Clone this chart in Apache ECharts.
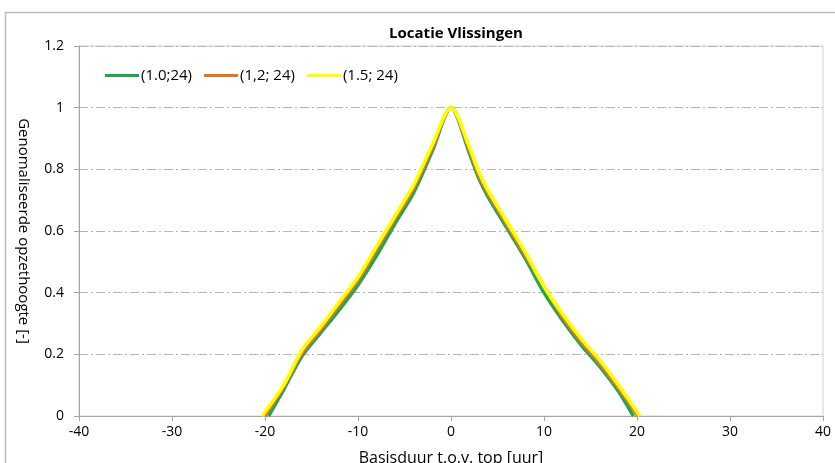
<!DOCTYPE html>
<html>
<head>
<meta charset="utf-8">
<script src="https://cdn.jsdelivr.net/npm/echarts@6/dist/echarts.min.js"></script>
<style>html,body{margin:0;padding:0;background:#fff;}#c{width:835px;height:463px;}</style>
</head>
<body>
<div id="c"></div>
<script>
var seriesNames = ['(1.0;24)', '(1,2; 24)', '(1.5; 24)'];
var green = [[-19.6,0],[-18,0.085],[-16,0.195],[-14,0.27],[-12,0.345],[-10,0.425],[-8,0.52],[-6,0.625],[-4,0.725],[-2,0.86],[0,1],[2,0.85],[3,0.77],[4,0.71],[6,0.61],[8,0.51],[10,0.40],[12,0.31],[14,0.23],[16,0.16],[18,0.08],[19.6,0]];
var orange = [[-20.0,0],[-18,0.095],[-16,0.205],[-14,0.28],[-12,0.36],[-10,0.44],[-8,0.54],[-6,0.64],[-4,0.74],[-2,0.87],[0,1],[2,0.86],[3,0.78],[4,0.72],[6,0.62],[8,0.52],[10,0.42],[12,0.32],[14,0.24],[16,0.17],[18,0.09],[20.1,0]];
var yellow = [[-20.3,0],[-18,0.10],[-16,0.215],[-14,0.29],[-12,0.37],[-10,0.45],[-8,0.55],[-6,0.65],[-4,0.75],[-2,0.88],[0,1],[2,0.87],[3,0.79],[4,0.73],[6,0.63],[8,0.53],[10,0.42],[12,0.33],[14,0.25],[16,0.18],[18,0.10],[20.3,0]];
var colors = ['#1fa84a', '#e8731c', '#ffff00'];

var chart = echarts.init(document.getElementById('c'));
var font = 'Open Sans, Liberation Sans, sans-serif';
function mk(name, data, color) {
  return {name: name, type: 'line', data: data, smooth: 0.3, symbol: 'none',
    lineStyle: {color: color, width: 3.5}, itemStyle: {color: color}};
}
chart.setOption({
  animation: false,
  graphic: [{type: 'rect', shape: {x: 5.5, y: 12.5, width: 840, height: 470},
    style: {fill: 'none', stroke: '#bdbdbd', lineWidth: 1.5}, silent: true}],
  title: {text: 'Locatie Vlissingen', left: 451, top: 21, textAlign: 'center',
    textStyle: {fontFamily: font, fontSize: 15, fontWeight: 'bold', color: '#000'}},
  legend: {left: 100, top: 63, itemWidth: 34, itemHeight: 3, itemGap: 12, icon: 'rect',
    data: seriesNames,
    textStyle: {fontFamily: font, fontSize: 15, color: '#000', padding: [0,0,0,-3]}},
  grid: {left: 79, right: 12, top: 46, bottom: 47, show: true, borderColor: '#d0d0d0', borderWidth: 1,
    outerBoundsMode: 'none', containLabel: false},
  xAxis: {type: 'value', min: -40, max: 40, interval: 10,
    name: 'Basisduur t.o.v. top [uur]', nameLocation: 'middle', nameGap: 34,
    nameTextStyle: {fontFamily: font, fontSize: 16, color: '#000'},
    axisLine: {lineStyle: {color: '#a6a6a6'}},
    axisTick: {show: true, length: 5, lineStyle: {color: '#a6a6a6'}},
    axisLabel: {fontFamily: font, fontSize: 14, color: '#000', margin: 9},
    splitLine: {show: false}},
  yAxis: {type: 'value', min: 0, max: 1.2, interval: 0.2,
    name: 'Genomaliseerde opzethoogte [-]', nameLocation: 'middle', nameGap: 48, nameRotate: -90,
    nameTextStyle: {fontFamily: font, fontSize: 15, color: '#000'},
    axisLine: {show: true, onZero: false, lineStyle: {color: '#a6a6a6'}},
    axisTick: {show: true, length: 5, lineStyle: {color: '#a6a6a6'}},
    axisLabel: {fontFamily: font, fontSize: 14, color: '#000', margin: 15,
      formatter: function (v) { return String(Math.round(v * 10) / 10); }},
    splitLine: {show: true, lineStyle: {color: '#b5b5b5', type: [9, 3, 2, 3], width: 1}}},
  series: [mk(seriesNames[0], green, colors[0]), mk(seriesNames[1], orange, colors[1]), mk(seriesNames[2], yellow, colors[2])]
});
</script>
</body>
</html>
